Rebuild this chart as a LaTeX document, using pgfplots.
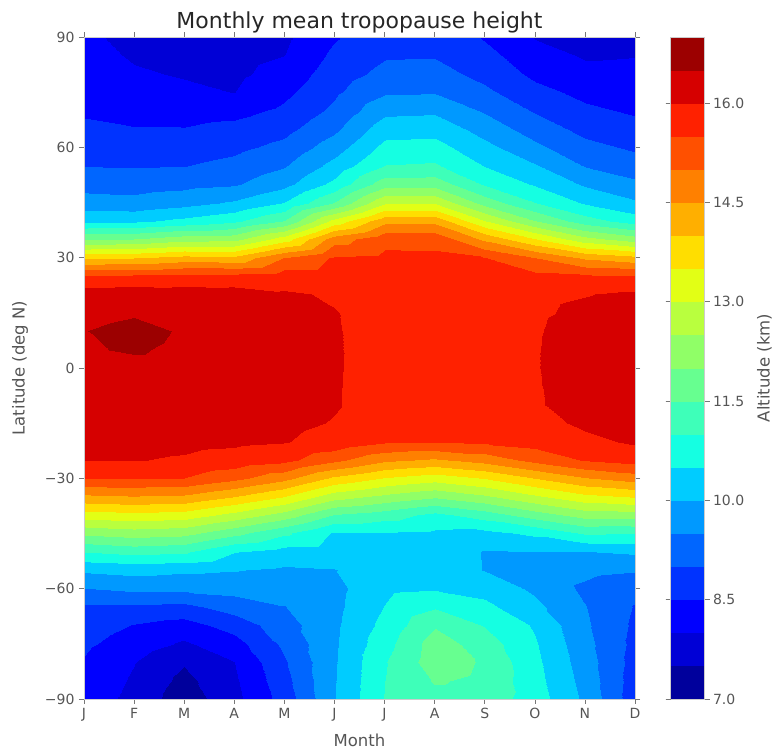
\documentclass[border=0pt]{standalone}
\usepackage{pgfplots}
\pgfplotsset{compat=1.18}
\usepackage{fontspec}
\setmainfont{DejaVu Sans}
\definecolor{txtgray}{RGB}{85,85,85}
\begin{document}
\begin{tikzpicture}
\useasboundingbox (-84pt,37pt) rectangle (689pt,-713pt);
\begin{axis}[
  at={(0pt,0pt)}, anchor=north west,
  view={0}{90},
  width=551pt, height=662pt, scale only axis,
  xmin=0, xmax=11, ymin=-90, ymax=90,
  xtick={0,...,11},
  xticklabels={J,F,M,A,M,J,J,A,S,O,N,D},
  ytick={-90,-60,-30,0,30,60,90},
  yticklabels={−90,−60,−30,0,30,60,90},
  ztick=\empty,
  tick align=outside,
  major tick length=5pt,
  tick style={color=txtgray!80, line width=0.6pt},
  axis line style={gray!40},
  tick label style={font=\fontsize{14}{16}\selectfont, text=txtgray},
  xticklabel style={yshift=-1pt},
  yticklabel style={xshift=-1pt},
  title style={font=\fontsize{22}{25}\selectfont, text=black!85, at={(axis description cs:0.5,1)}, anchor=base, yshift=3pt},
  every axis x label/.style={at={(axis description cs:0.5,0)}, anchor=base, yshift=-48pt, font=\fontsize{16.5}{19}\selectfont, text=txtgray},
  every axis y label/.style={at={(axis description cs:0,0.5)}, xshift=-64pt, rotate=90, anchor=center, font=\fontsize{16.5}{19}\selectfont, text=txtgray},
  title={Monthly mean tropopause height},
  xlabel={Month}, ylabel={Latitude (deg N)},
  colormap={tropo}{rgb255=(0,0,156) rgb255=(0,0,214) rgb255=(0,0,255) rgb255=(0,51,255) rgb255=(0,102,255) rgb255=(0,153,255) rgb255=(0,204,255) rgb255=(21,255,226) rgb255=(62,255,185) rgb255=(103,255,144) rgb255=(144,255,103) rgb255=(185,255,62) rgb255=(226,255,21) rgb255=(255,222,0) rgb255=(255,175,0) rgb255=(255,128,0) rgb255=(255,80,0) rgb255=(255,33,0) rgb255=(214,0,0) rgb255=(156,0,0)},
  colormap access=piecewise constant,
  point meta min=7, point meta max=17,
  colorbar,
  colorbar/width=34pt,
  colorbar style={
    at={(parent axis.north east)}, anchor=north west, xshift=27pt,
    width=34pt, scale only axis,
    ytick={7,8.5,10,11.5,13,14.5,16},
    yticklabels={7.0,8.5,10.0,11.5,13.0,14.5,16.0},
    ylabel={Altitude (km)},
    tick align=outside,
    major tick length=5pt,
    tick style={color=txtgray!80, line width=0.6pt},
    axis line style={gray!40},
    tick label style={font=\fontsize{14}{16}\selectfont, text=txtgray},
    every axis y label/.style={at={(axis description cs:1,0.5)}, xshift=60pt, rotate=90, anchor=center, font=\fontsize{16.5}{19}\selectfont, text=txtgray},
  },
]
\addplot3[surf, shader=interp, mesh/ordering=y varies] table {
x y z
0 90 8.10
0 85 8.19
0 80 8.27
0 75 8.36
0 70 8.45
0 65 8.58
0 60 8.78
0 55 8.99
0 50 9.31
0 45 9.72
0 40 10.40
0 35 11.93
0 30 13.95
0 25 15.56
0 20 16.25
0 15 16.33
0 10 16.49
0 5 16.45
0 0 16.35
0 -5 16.32
0 -10 16.30
0 -15 16.22
0 -20 16.15
0 -25 16.02
0 -30 15.50
0 -35 14.37
0 -40 13.25
0 -45 12.12
0 -50 11.00
0 -55 10.08
0 -60 9.47
0 -65 8.93
0 -70 8.76
0 -75 8.59
0 -80 8.46
0 -85 8.38
0 -90 8.30

1 90 7.85
1 85 7.94
1 80 8.06
1 75 8.21
1 70 8.36
1 65 8.52
1 60 8.75
1 55 8.97
1 50 9.28
1 45 9.67
1 40 10.40
1 35 12.00
1 30 14.00
1 25 15.59
1 20 16.28
1 15 16.45
1 10 16.65
1 5 16.55
1 0 16.35
1 -5 16.32
1 -10 16.30
1 -15 16.22
1 -20 16.15
1 -25 16.02
1 -30 15.52
1 -35 14.45
1 -40 13.35
1 -45 12.26
1 -50 11.16
1 -55 10.17
1 -60 9.60
1 -65 8.92
1 -70 8.48
1 -75 8.26
1 -80 8.02
1 -85 7.93
1 -90 7.85

2 90 7.80
2 85 7.88
2 80 7.96
2 75 8.10
2 70 8.31
2 65 8.52
2 60 8.75
2 55 8.99
2 50 9.35
2 45 9.83
2 40 10.63
2 35 12.29
2 30 14.21
2 25 15.64
2 20 16.25
2 15 16.36
2 10 16.45
2 5 16.40
2 0 16.33
2 -5 16.30
2 -10 16.28
2 -15 16.20
2 -20 16.12
2 -25 15.95
2 -30 15.50
2 -35 14.39
2 -40 13.28
2 -45 12.17
2 -50 11.06
2 -55 10.08
2 -60 9.59
2 -65 8.86
2 -70 8.31
2 -75 7.93
2 -80 7.55
2 -85 7.35
2 -90 7.20

3 90 7.75
3 85 7.83
3 80 7.90
3 75 7.99
3 70 8.35
3 65 8.64
3 60 8.88
3 55 9.14
3 50 9.44
3 45 10.07
3 40 10.90
3 35 12.33
3 30 14.14
3 25 15.66
3 20 16.22
3 15 16.31
3 10 16.38
3 5 16.35
3 0 16.30
3 -5 16.28
3 -10 16.25
3 -15 16.17
3 -20 16.08
3 -25 15.82
3 -30 15.15
3 -35 13.99
3 -40 12.83
3 -45 11.66
3 -50 10.52
3 -55 10.02
3 -60 9.67
3 -65 9.22
3 -70 8.71
3 -75 8.29
3 -80 7.99
3 -85 7.92
3 -90 7.85

4 90 7.90
4 85 7.99
4 80 8.18
4 75 8.38
4 70 8.60
4 65 8.85
4 60 9.13
4 55 9.46
4 50 9.84
4 45 10.52
4 40 11.52
4 35 13.25
4 30 15.02
4 25 15.75
4 20 16.06
4 15 16.15
4 10 16.20
4 5 16.25
4 0 16.22
4 -5 16.20
4 -10 16.15
4 -15 16.10
4 -20 16.02
4 -25 15.65
4 -30 14.67
4 -35 13.48
4 -40 12.29
4 -45 11.10
4 -50 10.29
4 -55 9.93
4 -60 9.70
4 -65 9.48
4 -70 9.29
4 -75 9.10
4 -80 8.94
4 -85 8.82
4 -90 8.70

5 90 8.45
5 85 8.60
5 80 8.76
5 75 8.91
5 70 9.11
5 65 9.39
5 60 9.75
5 55 10.17
5 50 10.63
5 45 11.52
5 40 13.17
5 35 14.75
5 30 15.56
5 25 15.76
5 20 15.95
5 15 16.02
5 10 16.03
5 5 16.03
5 0 16.03
5 -5 16.03
5 -10 16.03
5 -15 15.98
5 -20 15.85
5 -25 15.13
5 -30 13.91
5 -35 12.69
5 -40 11.47
5 -45 10.45
5 -50 10.23
5 -55 9.98
5 -60 9.85
5 -65 9.87
5 -70 9.90
5 -75 9.92
5 -80 9.94
5 -85 9.96
5 -90 9.97

6 90 8.85
6 85 8.95
6 80 9.14
6 75 9.43
6 70 9.88
6 65 10.28
6 60 10.64
6 55 11.02
6 50 11.79
6 45 12.95
6 40 14.35
6 35 15.35
6 30 15.62
6 25 15.70
6 20 15.80
6 15 15.82
6 10 15.84
6 5 15.86
6 0 15.87
6 -5 15.85
6 -10 15.83
6 -15 15.80
6 -20 15.55
6 -25 14.60
6 -30 13.48
6 -35 12.35
6 -40 11.23
6 -45 10.47
6 -50 10.38
6 -55 10.30
6 -60 10.40
6 -65 10.52
6 -70 10.65
6 -75 10.82
6 -80 10.97
6 -85 11.00
6 -90 11.03

7 90 8.85
7 85 8.96
7 80 9.18
7 75 9.46
7 70 9.92
7 65 10.32
7 60 10.68
7 55 11.07
7 50 11.79
7 45 12.95
7 40 14.35
7 35 15.35
7 30 15.60
7 25 15.67
7 20 15.75
7 15 15.77
7 10 15.79
7 5 15.81
7 0 15.82
7 -5 15.80
7 -10 15.77
7 -15 15.75
7 -20 15.52
7 -25 14.43
7 -30 13.24
7 -35 12.05
7 -40 10.86
7 -45 10.42
7 -50 10.30
7 -55 10.30
7 -60 10.47
7 -65 10.95
7 -70 11.45
7 -75 11.75
7 -80 11.78
7 -85 11.55
7 -90 11.32

8 90 8.45
8 85 8.65
8 80 8.85
8 75 9.10
8 70 9.45
8 65 9.79
8 60 10.14
8 55 10.48
8 50 10.93
8 45 11.80
8 40 13.02
8 35 14.38
8 30 15.52
8 25 15.65
8 20 15.80
8 15 15.82
8 10 15.84
8 5 15.86
8 0 15.87
8 -5 15.85
8 -10 15.83
8 -15 15.80
8 -20 15.57
8 -25 14.70
8 -30 13.54
8 -35 12.39
8 -40 11.24
8 -45 10.37
8 -50 9.97
8 -55 9.98
8 -60 10.33
8 -65 10.63
8 -70 10.96
8 -75 11.25
8 -80 11.43
8 -85 11.38
8 -90 11.30

9 90 7.97
9 85 8.18
9 80 8.39
9 75 8.65
9 70 8.96
9 65 9.27
9 60 9.61
9 55 10.05
9 50 10.44
9 45 11.02
9 40 12.02
9 35 13.52
9 30 15.02
9 25 15.63
9 20 15.90
9 15 15.93
9 10 15.96
9 5 15.97
9 0 15.97
9 -5 15.96
9 -10 15.95
9 -15 15.86
9 -20 15.69
9 -25 15.16
9 -30 14.02
9 -35 12.89
9 -40 11.75
9 -45 10.61
9 -50 9.99
9 -55 9.83
9 -60 9.91
9 -65 10.13
9 -70 10.44
9 -75 10.55
9 -80 10.62
9 -85 10.68
9 -90 10.75

10 90 7.80
10 85 7.95
10 80 8.14
10 75 8.37
10 70 8.60
10 65 8.85
10 60 9.14
10 55 9.48
10 50 9.93
10 45 10.45
10 40 11.23
10 35 12.67
10 30 14.43
10 25 15.57
10 20 15.98
10 15 16.10
10 10 16.20
10 5 16.24
10 0 16.27
10 -5 16.24
10 -10 16.20
10 -15 16.08
10 -20 15.89
10 -25 15.54
10 -30 14.48
10 -35 13.34
10 -40 12.21
10 -45 11.07
10 -50 9.98
10 -55 9.63
10 -60 9.40
10 -65 9.52
10 -70 9.58
10 -75 9.66
10 -80 9.74
10 -85 9.82
10 -90 9.90

11 90 7.85
11 85 7.98
11 80 8.13
11 75 8.29
11 70 8.44
11 65 8.66
11 60 8.92
11 55 9.23
11 50 9.60
11 45 10.08
11 40 10.77
11 35 12.23
11 30 14.17
11 25 15.52
11 20 16.08
11 15 16.17
11 10 16.30
11 5 16.33
11 0 16.35
11 -5 16.33
11 -10 16.30
11 -15 16.18
11 -20 16.06
11 -25 15.71
11 -30 14.75
11 -35 13.52
11 -40 12.27
11 -45 11.02
11 -50 10.07
11 -55 9.54
11 -60 9.15
11 -65 8.97
11 -70 8.91
11 -75 8.86
11 -80 8.81
11 -85 8.75
11 -90 8.70
};
\end{axis}
\end{tikzpicture}
\end{document}
